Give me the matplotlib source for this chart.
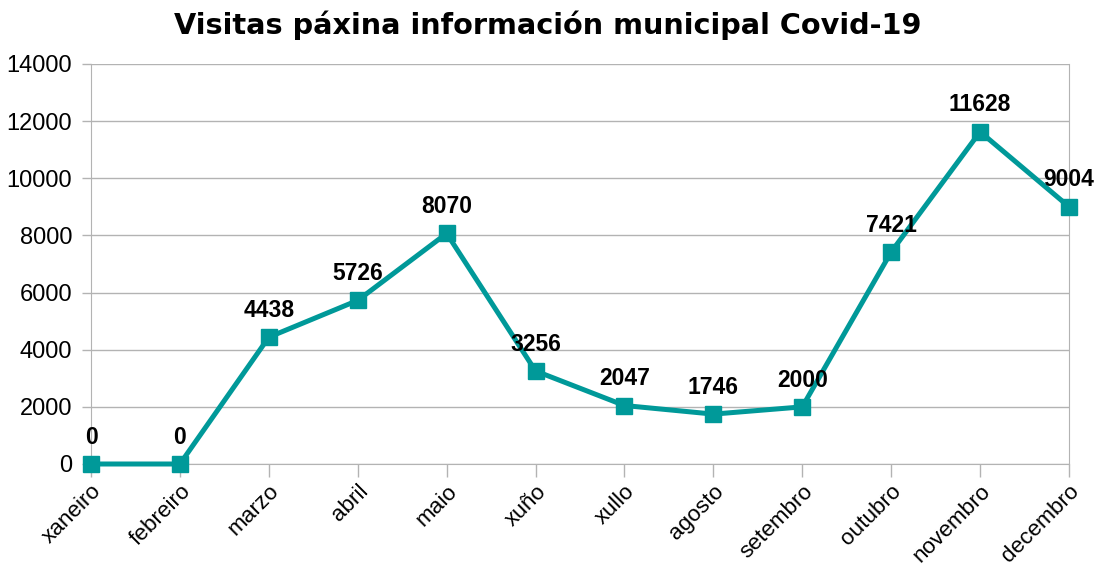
import matplotlib
matplotlib.use("Agg")
import matplotlib.pyplot as plt

# visitas mensuais á páxina de información municipal
meses = ["xaneiro", "febreiro", "marzo", "abril", "maio", "xuño",
         "xullo", "agosto", "setembro", "outubro", "novembro", "decembro"]
visitas = [0, 0, 4438, 5726, 8070, 3256, 2047, 1746, 2000, 7421, 11628, 9004]

plt.rcParams['font.family'] = ['Liberation Sans', 'DejaVu Sans']

cor = '#009999'
gris = '#b3b3b3'

fig = plt.figure(figsize=(10.95, 5.69), dpi=100)
ax = fig.add_axes([91 / 1095, 1 - 464 / 569, 978 / 1095, 400 / 569])

x = list(range(len(meses)))
ax.plot(x, visitas, color=cor, linewidth=3.6, marker='s', markersize=12,
        clip_on=False, zorder=3)

for xi, v in zip(x, visitas):
    ax.annotate(str(v), (xi, v), xytext=(0, 11), textcoords='offset points',
                ha='center', va='bottom', fontsize=16.5, fontweight='bold',
                annotation_clip=False, zorder=4)

ax.set_xlim(0, len(meses) - 1)
ax.set_ylim(0, 14000)
ax.set_yticks(range(0, 14001, 2000))
ax.set_xticks(x)
ax.set_xticklabels(meses, rotation=45, ha='right', rotation_mode='anchor',
                   fontsize=16.2)
ax.tick_params(axis='y', labelsize=17, length=6.5, color=gris, width=1, pad=7)
ax.tick_params(axis='x', length=9, color=gris, width=1, pad=3)

ax.grid(axis='y', color=gris, linewidth=1)
ax.set_axisbelow(True)
for lado in ['left', 'right', 'bottom']:
    ax.spines[lado].set_color(gris)
ax.spines['top'].set_visible(False)

fig.text(0.5, 0.955, 'Visitas páxina información municipal Covid-19',
         ha='center', va='center', fontsize=20.7, fontweight='bold',
         family='DejaVu Sans')

fig.savefig('out.png', dpi=100)
